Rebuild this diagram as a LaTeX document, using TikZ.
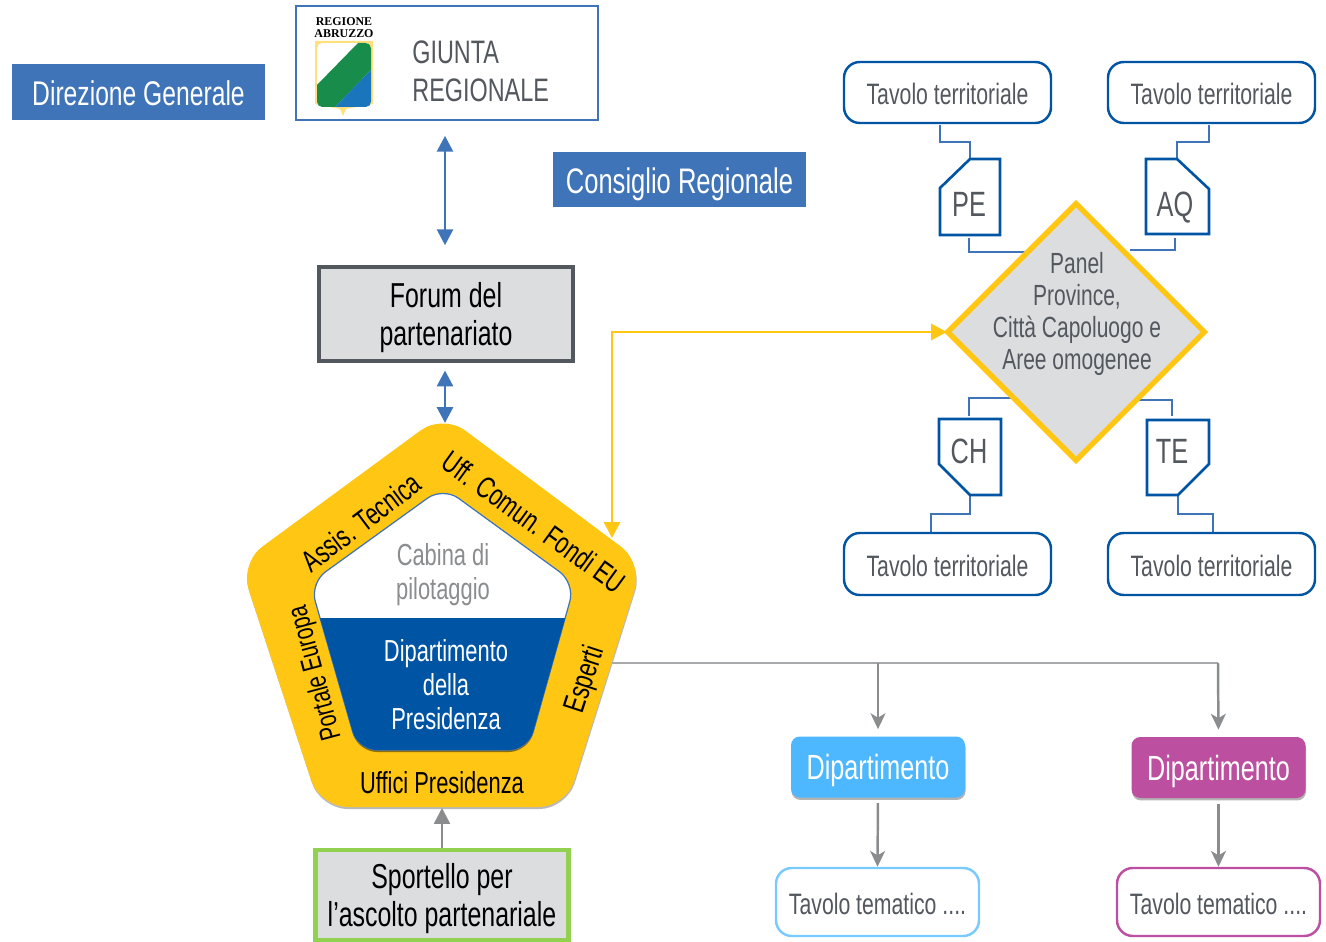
\documentclass[tikz,border=0pt]{standalone}
\usepackage{fontspec}
\setmainfont[FakeStretch=0.72]{Liberation Sans}
\newfontfamily\logofont{Liberation Serif}
\usetikzlibrary{arrows.meta,shapes.geometric,shadows}

\definecolor{headblue}{HTML}{3F74B8}
\definecolor{deepblue}{HTML}{0054A4}
\definecolor{sunyellow}{HTML}{FFC613}
\definecolor{panelgray}{HTML}{DCDDDF}
\definecolor{textgray}{HTML}{53575E}
\definecolor{arrowgray}{HTML}{8A8C8E}
\definecolor{skyblue}{HTML}{4DB8FF}
\definecolor{orchid}{HTML}{BC4F9F}
\definecolor{leafgreen}{HTML}{92D050}
\definecolor{shieldgreen}{HTML}{178C4B}
\definecolor{shieldblue}{HTML}{1A75BC}

\tikzset{
    size/.style 2 args={minimum width=#1*0.02cm, minimum height=#2*0.02cm, inner sep=0pt},
    banner/.style={fill=headblue, text=white, text height=15.6pt, text depth=0pt},
    framed/.style={fill=panelgray, text=black, align=center, text depth=0pt, font=\fontsize{19.7}{22}\selectfont, line width=2.8pt},
    tavolo/.style={draw=deepblue, line width=1.4pt, rounded corners=9pt, fill=white, text=textgray,
        text height=14pt, text depth=0pt, font=\fontsize{16.8}{18}\selectfont},
    dept/.style={rounded corners=5pt, text=white, text height=14.5pt, text depth=0pt, font=\fontsize{19.9}{21}\selectfont,
        drop shadow={shadow xshift=0.3pt, shadow yshift=-1.4pt, opacity=.6}},
    tag/.style={draw=deepblue, line width=1.5pt, fill=white},
    taglabel/.style={text=textgray, text height=14.6pt, text depth=0pt, font=\fontsize{20}{21}\selectfont},
    elbow/.style={headblue, line width=0.7pt},
    linkblue/.style={headblue, line width=1.7pt, {Triangle[width=9pt,length=9pt]}-{Triangle[width=9pt,length=9pt]}},
    linkgray/.style={arrowgray, line width=1.4pt, -{Stealth[width=8.5pt,length=9pt,inset=2.5pt]}},
    ringlabel/.style={text=black, font=\fontsize{17.3}{19}\selectfont}
}

\begin{document}
\begin{tikzpicture}[x=0.02cm, y=-0.02cm]

    \useasboundingbox (0,0) rectangle (1326,942);

    % connectors that run under the diamond
    \coordinate (petavoloend) at (940,125);
    \coordinate (petop) at (970,158);
    \coordinate (pebottom) at (969,238);
    \coordinate (pepanel) at (1027,252);
    \coordinate (aqtavoloend) at (1209,125);
    \coordinate (aqtop) at (1177,158);
    \coordinate (aqbottom) at (1175,238);
    \coordinate (aqpanel) at (1130,250);
    \coordinate (chtop) at (969,416);
    \coordinate (chpanel) at (1014,398);
    \coordinate (tetop) at (1172,416);
    \coordinate (tepanel) at (1136,400);
    \coordinate (chbottom) at (970,495);
    \coordinate (chtavoloend) at (931,533);
    \coordinate (tebottom) at (1178,495);
    \coordinate (tetavoloend) at (1213,533);

    \draw[elbow]
        (petavoloend) -- (940,142) -- (970,142) -- (petop)
        (pebottom) -- (969,252) -- (pepanel)
        (aqtavoloend) -- (1209,142) -- (1177,142) -- (aqtop)
        (aqbottom) -- (1175,250) -- (aqpanel)
        (chtop) -- (969,398) -- (chpanel)
        (tetop) -- (1172,400) -- (tepanel)
        (chbottom) -- (970,514) -- (931,514) -- (chtavoloend)
        (tebottom) -- (1178,514) -- (1213,514) -- (tetavoloend);

    % top left
    \node[banner, font=\fontsize{19.5}{21}\selectfont, size={253}{56}] (direzione) at (138.5,92) {Direzione Generale};
    \node[banner, font=\fontsize{20.2}{21}\selectfont, size={253}{55}] (consiglio) at (679.5,179.5) {Consiglio Regionale};

    \node[draw=headblue, line width=1.7pt, fill=white, size={302}{114}] (giunta) at (447,63) {};
    \node[anchor=west, inner sep=0pt, align=left, text=textgray, font=\fontsize{18.5}{21.6}\selectfont] (giuntatext)
        at (412,71) {GIUNTA\\REGIONALE};
    \node[align=center, inner sep=0pt, font=\logofont\bfseries\fontsize{6.8}{7.2}\selectfont] (logotext)
        at (344,27.5) {REGIONE\\ABRUZZO};

    % shield
    \fill[sunyellow!55!white]
        (315,41) -- (373,41) -- (373,104) -- (346,109) -- (343,116) -- (340,109) -- (315,104) -- cycle;
    \begin{scope}
        \clip[rounded corners=3pt] (317,43) -- (371,43) -- (371,107) -- (317,107) -- cycle;
        \fill[white] (317,43) rectangle (371,107);
        \fill[shieldgreen] (317,85) -- (358,43) -- (371,43) -- (371,70) -- (335,107) -- (317,107) -- cycle;
        \fill[shieldblue] (371,70) -- (371,107) -- (335,107) -- cycle;
    \end{scope}

    \node[framed, draw=textgray, size={254}{94}] (forum) at (446,314) {Forum del\\partenariato};
    \node[framed, draw=leafgreen, size={253}{90}] (sportello) at (442,895) {Sportello per\\l'ascolto partenariale};

    % pentagon
    \fill[sunyellow, rounded corners=0.55cm, drop shadow={shadow xshift=0.3pt, shadow yshift=-1.2pt, opacity=.55}]
        (443,414) -- (643,563) -- (566,807) -- (320,807) -- (240,563) -- cycle;
    \coordinate (pentatop) at (445,423);
    \coordinate (pentaright) at (612,538);
    \coordinate (pentaside) at (612,663);
    \coordinate (pentabottom) at (442,808);

    \fill[black!45!sunyellow, rounded corners=0.38cm]
        (443,487) -- (575,583) -- (528,752) -- (358,752) -- (310,583) -- cycle;
    \filldraw[fill=white, draw=headblue, line width=0.7pt, rounded corners=0.38cm]
        (443,487) -- (575,583) -- (528,750) -- (358,750) -- (310,583) -- cycle;
    \begin{scope}
        \clip (300,618) rectangle (590,760);
        \fill[deepblue, rounded corners=0.38cm]
            (443,487) -- (575,583) -- (528,750) -- (358,750) -- (310,583) -- cycle;
    \end{scope}

    \node[align=center, text=arrowgray, font=\fontsize{17.3}{19.3}\selectfont] (cabina) at (443,575) {Cabina di\\pilotaggio};
    \node[align=center, text=white, font=\fontsize{17.3}{19.3}\selectfont] (presidenza) at (446,685) {Dipartimento\\della\\Presidenza};

    \node[ringlabel, rotate=37] (assistenza) at (361,522) {Assis. Tecnica};
    \node[ringlabel, rotate=-36] (comunitari) at (534,522) {Uff. Comun. Fondi EU};
    \node[ringlabel, rotate=105, font=\fontsize{16.3}{19}\selectfont] (portale) at (316,673) {Portale Europa};
    \node[ringlabel, rotate=72] (esperti) at (586,680) {Esperti};
    \node[ringlabel] (uffici) at (442,783) {Uffici Presidenza};

    % panel
    \node[diamond, draw=sunyellow, fill=panelgray, line width=3.1pt, aspect=1,
        minimum width=5.18cm, minimum height=5.18cm, inner sep=0pt] (panel) at (1076,332) {};
    \coordinate (panelentry) at (947,332);
    \node[align=center, text=textgray, font=\fontsize{16.6}{18.1}\selectfont] (paneltext)
        at (1077,314) {Panel\\Province,\\Citt\`a Capoluogo e\\Aree omogenee};

    % tables and tags
    \node[tavolo, size={207}{61}] (tavolope) at (947.5,92.5) {Tavolo territoriale};
    \node[tavolo, size={207}{61}] (tavoloaq) at (1211.5,92.5) {Tavolo territoriale};
    \node[tavolo, size={207}{62}] (tavoloch) at (947.5,564) {Tavolo territoriale};
    \node[tavolo, size={207}{62}] (tavolote) at (1211.5,564) {Tavolo territoriale};

    \draw[tag] (970,159) -- (1000,159) -- (1000,235) -- (940,235) -- (940,188) -- cycle;
    \draw[tag] (1146,159) -- (1177,159) -- (1209,189) -- (1209,234) -- (1146,234) -- cycle;
    \draw[tag] (939,419) -- (1001,419) -- (1001,495) -- (970,495) -- (939,464) -- cycle;
    \draw[tag] (1147,420) -- (1209,420) -- (1209,464) -- (1178,495) -- (1147,495) -- cycle;

    \node[taglabel] (pe) at (969,204) {PE};
    \node[taglabel] (aq) at (1175,204) {AQ};
    \node[taglabel] (ch) at (969,451) {CH};
    \node[taglabel] (te) at (1172,451) {TE};

    % departments
    \node[dept, fill=skyblue, size={174}{61}] (deptsky) at (878,767) {Dipartimento};
    \node[dept, fill=orchid, size={174}{61}] (deptorchid) at (1218.5,767.5) {Dipartimento};
    \node[tavolo, draw=skyblue!75!white, size={203}{68}] (temasky) at (877.5,902) {Tavolo tematico ....};
    \node[tavolo, draw=orchid, size={203}{68}] (temaorchid) at (1218.5,902) {Tavolo tematico ....};

    % arrows
    \coordinate (giuntalink) at (445,120);
    \draw[linkblue, shorten <=9pt, shorten >=11pt]
        (giuntalink) -- (giuntalink |- forum.north);
    \draw[linkblue, shorten <=4pt]
        (forum.south -| giuntalink) -- (pentatop);

    \draw[sunyellow, line width=1.7pt, {Triangle[width=9pt,length=9pt]}-{Triangle[width=9pt,length=9pt]}]
        (pentaright) -- (612,332) -- (panelentry);

    \draw[arrowgray!75, line width=0.6pt]
        (pentaside) -- (1218,663);
    \draw[linkgray, shorten >=4pt]
        (878,663) -- (deptsky.north);
    \draw[linkgray, shorten >=4pt]
        (1218,663) -- (deptorchid.north);
    \draw[linkgray, shorten <=3pt]
        (deptsky.south) -- (temasky.north);
    \draw[linkgray, shorten <=3pt]
        (deptorchid.south) -- (temaorchid.north);
    \draw[arrowgray, line width=1.4pt, -{Triangle[width=9pt,length=9pt]}]
        (sportello.north) -- (pentabottom);

\end{tikzpicture}
\end{document}
